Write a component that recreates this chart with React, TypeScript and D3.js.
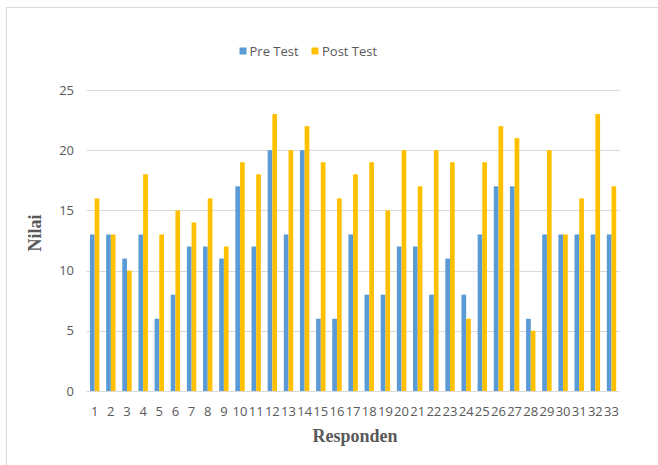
import React from "react";
import * as d3 from "d3";

const categories = Array.from({ length: 33 }, (_, i) => String(i + 1));
const preTest = [13, 13, 11, 13, 6, 8, 12, 12, 11, 17, 12, 20, 13, 20, 6, 6, 13, 8, 8, 12, 12, 8, 11, 8, 13, 17, 17, 6, 13, 13, 13, 13, 13];
const postTest = [16, 13, 10, 18, 13, 15, 14, 16, 12, 19, 18, 23, 20, 22, 19, 16, 18, 19, 15, 20, 17, 20, 19, 6, 19, 22, 21, 5, 20, 13, 16, 23, 17];
const yTicks = [0, 5, 10, 15, 20, 25];
const seriesNames = ["Pre Test", "Post Test"];
const colors = ["#5B9BD5", "#FFC000"];

export default function App() {
  const W = 658, H = 465;
  const left = 86.6, right = 619.6, top = 90, bottom = 391;
  const x = d3.scaleBand<string>().domain(categories).range([left, right]).padding(0);
  const bw = x.bandwidth();
  const barW = 4.7;
  const inner = d3.scaleBand<string>().domain(seriesNames).range([bw / 2 - barW, bw / 2 + barW]).padding(0);
  const y = d3.scaleLinear().domain([0, 25]).range([bottom, top]);
  const series = [preTest, postTest];
  const tickFont = "'Open Sans', sans-serif";
  const tickColor = "#595959";

  return (
    <svg width={W} height={H} style={{ position: "absolute", left: 0, top: 0 }}>
      <rect x={0} y={0} width={W} height={H} fill="#fff" />
      <line x1={6} y1={7.5} x2={W} y2={7.5} stroke="#d9d9d9" strokeWidth={1} />
      <line x1={6.5} y1={7} x2={6.5} y2={H} stroke="#d9d9d9" strokeWidth={1} />
      {yTicks.map((t) => (
        <g key={t}>
          <line x1={left} x2={right} y1={Math.round(y(t)) + 0.5} y2={Math.round(y(t)) + 0.5} stroke="#d9d9d9" strokeWidth={1} />
          <text x={74} y={y(t) + 4.5} textAnchor="end" fontFamily={tickFont} fontSize={13} fill={tickColor}>{t}</text>
        </g>
      ))}
      {series.map((vals, si) => (
        <g key={si} fill={colors[si]}>
          {vals.map((v, i) => (
            <rect key={i} x={(x(categories[i]) as number) + (inner(seriesNames[si]) as number)} y={y(v)} width={inner.bandwidth()} height={y(0) - y(v)} />
          ))}
        </g>
      ))}
      {categories.map((c) => (
        <text key={c} x={(x(c) as number) + bw / 2} y={416} textAnchor="middle" fontFamily={tickFont} fontSize={13} fill={tickColor}>{c}</text>
      ))}
      <text x={355} y={442} textAnchor="middle" fontFamily="'Liberation Serif', serif" fontWeight="bold" fontSize={18} fill="#595959">Responden</text>
      <text transform="translate(41,233) rotate(-90)" textAnchor="middle" fontFamily="'Liberation Serif', serif" fontWeight="bold" fontSize={18} fill="#595959">Nilai</text>
      <g fontFamily={tickFont} fontSize={13} fill={tickColor}>
        <rect x={239.5} y={47.5} width={7} height={7} fill={colors[0]} />
        <text x={249.5} y={55.5}>{seriesNames[0]}</text>
        <rect x={311.5} y={47.5} width={7} height={7} fill={colors[1]} />
        <text x={322} y={55.5}>{seriesNames[1]}</text>
      </g>
    </svg>
  );
}
